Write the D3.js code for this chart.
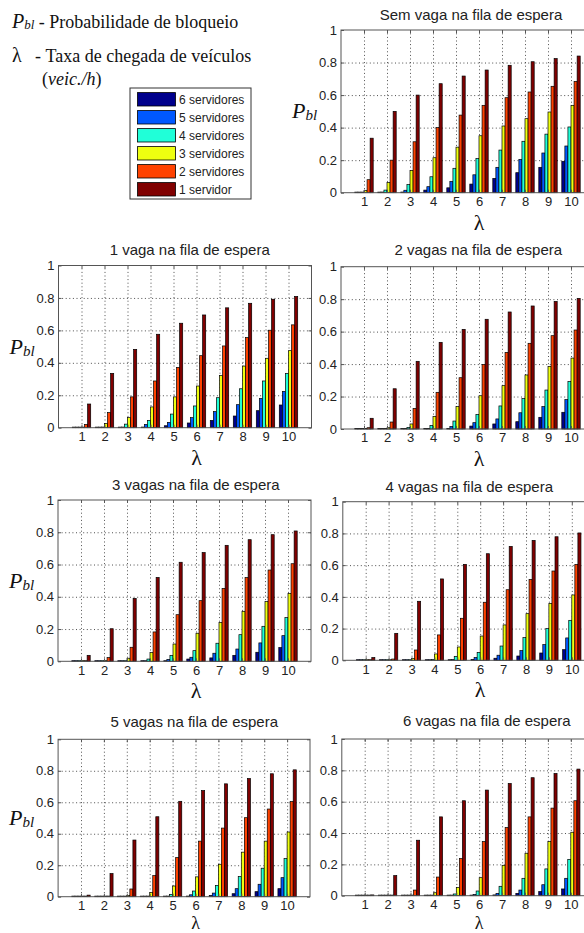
<!DOCTYPE html>
<html>
<head>
<meta charset="utf-8">
<script src="https://cdn.jsdelivr.net/npm/d3@7"></script>
<style>
  body { margin: 0; background: #fff; }
  svg { display: block; }
  .tick text { font-family: "Liberation Sans", Arial, sans-serif; fill: #222; }
</style>
</head>
<body>
<div id="chart"></div>
<script>
// lambda values (veic./h) and the series, in bar order (left to right)
const lambdas = [1, 2, 3, 4, 5, 6, 7, 8, 9, 10];
const servers = ["6 servidores", "5 servidores", "4 servidores", "3 servidores", "2 servidores", "1 servidor"];
const serverColors = ["#00008c", "#0058ff", "#20ffd8", "#eeff10", "#ff4200", "#800000"];
const yTicks = [0, 0.2, 0.4, 0.6, 0.8, 1];

const titles = [
    "Sem vaga na fila de espera",
    "1 vaga na fila de espera",
    "2 vagas na fila de espera",
    "3 vagas na fila de espera",
    "4 vagas na fila de espera",
    "5 vagas na fila de espera",
    "6 vagas na fila de espera"
];

// each row is one lambda, columns are 6,5,4,3,2,1 servidores
const semVaga = [
    [0, 0.001, 0.002, 0.013, 0.08, 0.335],
    [0.001, 0.004, 0.016, 0.063, 0.2, 0.5],
    [0.004, 0.015, 0.05, 0.137, 0.313, 0.6],
    [0.016, 0.037, 0.098, 0.215, 0.4, 0.67],
    [0.03, 0.07, 0.15, 0.28, 0.477, 0.717],
    [0.053, 0.11, 0.21, 0.35, 0.537, 0.754],
    [0.088, 0.156, 0.262, 0.41, 0.584, 0.783],
    [0.123, 0.205, 0.316, 0.455, 0.619, 0.805],
    [0.156, 0.244, 0.36, 0.496, 0.654, 0.824],
    [0.193, 0.287, 0.404, 0.537, 0.684, 0.84]
];
const vaga1 = [
    [0, 0, 0.001, 0.002, 0.02, 0.146],
    [0, 0.001, 0.004, 0.025, 0.093, 0.335],
    [0.001, 0.004, 0.022, 0.062, 0.19, 0.483],
    [0.004, 0.02, 0.045, 0.128, 0.288, 0.576],
    [0.012, 0.033, 0.084, 0.19, 0.372, 0.644],
    [0.029, 0.062, 0.134, 0.257, 0.444, 0.695],
    [0.045, 0.099, 0.185, 0.321, 0.504, 0.739],
    [0.072, 0.142, 0.24, 0.38, 0.556, 0.767],
    [0.105, 0.181, 0.288, 0.428, 0.601, 0.792],
    [0.14, 0.224, 0.335, 0.475, 0.634, 0.809]
];
const vagas2 = [
    [0, 0, 0, 0.001, 0.008, 0.066],
    [0, 0, 0.002, 0.008, 0.043, 0.248],
    [0, 0.002, 0.01, 0.031, 0.127, 0.417],
    [0.001, 0.004, 0.022, 0.078, 0.226, 0.534],
    [0.004, 0.016, 0.049, 0.138, 0.316, 0.614],
    [0.018, 0.039, 0.09, 0.205, 0.398, 0.676],
    [0.031, 0.062, 0.142, 0.267, 0.472, 0.721],
    [0.045, 0.1, 0.187, 0.333, 0.528, 0.758],
    [0.072, 0.138, 0.24, 0.386, 0.575, 0.786],
    [0.103, 0.181, 0.292, 0.437, 0.61, 0.805]
];
const vagas3 = [
    [0, 0, 0, 0, 0.003, 0.037],
    [0, 0, 0, 0.004, 0.023, 0.202],
    [0, 0, 0.003, 0.019, 0.087, 0.39],
    [0, 0.003, 0.014, 0.054, 0.182, 0.52],
    [0.003, 0.012, 0.037, 0.107, 0.289, 0.614],
    [0.014, 0.025, 0.066, 0.174, 0.376, 0.674],
    [0.021, 0.05, 0.112, 0.24, 0.452, 0.719],
    [0.037, 0.076, 0.165, 0.31, 0.519, 0.754],
    [0.056, 0.114, 0.217, 0.37, 0.566, 0.785],
    [0.085, 0.159, 0.271, 0.421, 0.605, 0.808]
];
const vagas4 = [
    [0, 0, 0, 0, 0.001, 0.017],
    [0, 0, 0, 0.001, 0.008, 0.17],
    [0, 0, 0.001, 0.012, 0.065, 0.372],
    [0, 0.001, 0.006, 0.04, 0.16, 0.513],
    [0.001, 0.005, 0.025, 0.084, 0.265, 0.605],
    [0.006, 0.017, 0.05, 0.153, 0.366, 0.672],
    [0.013, 0.032, 0.09, 0.223, 0.445, 0.718],
    [0.027, 0.061, 0.143, 0.294, 0.51, 0.756],
    [0.046, 0.099, 0.2, 0.359, 0.563, 0.779],
    [0.067, 0.141, 0.252, 0.412, 0.605, 0.803]
];
const vagas5 = [
    [0, 0, 0, 0, 0, 0.01],
    [0, 0, 0, 0, 0.004, 0.147],
    [0, 0, 0, 0.007, 0.049, 0.36],
    [0, 0, 0.004, 0.026, 0.134, 0.508],
    [0, 0.004, 0.015, 0.068, 0.249, 0.606],
    [0.004, 0.012, 0.036, 0.126, 0.353, 0.674],
    [0.008, 0.023, 0.072, 0.206, 0.436, 0.717],
    [0.019, 0.051, 0.128, 0.283, 0.502, 0.751],
    [0.032, 0.079, 0.181, 0.353, 0.557, 0.781],
    [0.051, 0.121, 0.243, 0.411, 0.604, 0.806]
];
const vagas6 = [
    [0, 0, 0, 0, 0, 0.005],
    [0, 0, 0, 0, 0.002, 0.128],
    [0, 0, 0, 0.004, 0.036, 0.354],
    [0, 0, 0.002, 0.019, 0.119, 0.503],
    [0, 0.002, 0.011, 0.053, 0.237, 0.606],
    [0.002, 0.008, 0.03, 0.115, 0.345, 0.674],
    [0.005, 0.015, 0.06, 0.194, 0.435, 0.716],
    [0.015, 0.036, 0.111, 0.271, 0.503, 0.753],
    [0.026, 0.07, 0.171, 0.345, 0.559, 0.78],
    [0.043, 0.111, 0.232, 0.405, 0.606, 0.808]
];

const panelData = [semVaga, vaga1, vagas2, vagas3, vagas4, vagas5, vagas6];

// where each subplot sits on the page (tick "1" position, px per lambda unit, plot top/bottom, title centre)
// the right-hand panels below the first one have their P_bl label hidden behind the left panels
const layout = [
    { tick1: 364,   unit: 23.0, top: 30,    bottom: 192.7, tx: 471,   ty: 20,    ylab: true },
    { tick1: 81.5,  unit: 23.0, top: 265.5, bottom: 427.7, tx: 189.7, ty: 255,   ylab: true },
    { tick1: 364,   unit: 23.0, top: 266.7, bottom: 429,   tx: 478.3, ty: 255,   ylab: false },
    { tick1: 81,    unit: 23.0, top: 500,   bottom: 661.3, tx: 195.8, ty: 490,   ylab: true },
    { tick1: 365.7, unit: 22.9, top: 501.7, bottom: 660.3, tx: 469.2, ty: 491.5, ylab: false },
    { tick1: 81,    unit: 22.9, top: 739.3, bottom: 896.7, tx: 194.2, ty: 727,   ylab: true },
    { tick1: 364.7, unit: 22.9, top: 739,   bottom: 895.7, tx: 486.8, ty: 725.5, ylab: false }
];

const W = 584, H = 933;
const sansFont = '"Liberation Sans", Arial, sans-serif';
const serifFont = '"Liberation Serif", "Times New Roman", serif';

const svg = d3.select("#chart").append("svg")
    .attr("width", W)
    .attr("height", H)
    .attr("viewBox", `0 0 ${W} ${H}`);

svg.append("rect").attr("width", W).attr("height", H).attr("fill", "#fff");

// offset of each series inside a lambda group, in lambda units
const inner = d3.scaleBand().domain(servers).range([-0.4, 0.4]).padding(0);

function drawPanel(data, L, title) {
    const left = L.tick1 - L.unit;
    const right = left + 11 * L.unit;
    const x = d3.scaleLinear().domain([0, 11]).range([left, right]);
    const y = d3.scaleLinear().domain([0, 1]).range([L.bottom, L.top]);
    const g = svg.append("g");
    const plotH = L.bottom - L.top;
    const plotW = right - left;

    // dotted grid
    g.append("g")
        .attr("transform", `translate(0,${L.bottom})`)
        .call(d3.axisBottom(x).tickValues(lambdas).tickSize(-plotH).tickFormat(""))
        .call(s => s.select(".domain").remove())
        .selectAll("line")
        .attr("stroke", "#222")
        .attr("stroke-width", 0.8)
        .attr("stroke-dasharray", "1,2.6");

    g.append("g")
        .attr("transform", `translate(${left},0)`)
        .call(d3.axisLeft(y).tickValues([0.2, 0.4, 0.6, 0.8]).tickSize(-plotW).tickFormat(""))
        .call(s => s.select(".domain").remove())
        .selectAll("line")
        .attr("stroke", "#222")
        .attr("stroke-width", 0.8)
        .attr("stroke-dasharray", "1,2.6");

    // bars
    const bw = x(inner.bandwidth()) - x(0);
    const groups = g.selectAll(".grp")
        .data(data)
        .join("g")
        .attr("class", "grp");

    groups.selectAll("rect")
        .data((row, i) => row.map((v, j) => ({ lam: lambdas[i], s: servers[j], c: serverColors[j], v })))
        .join("rect")
        .attr("x", d => x(d.lam + inner(d.s)))
        .attr("width", bw)
        .attr("y", d => Math.min(y(d.v), L.bottom - 0.6))
        .attr("height", d => Math.max(0.6, L.bottom - y(d.v)))
        .attr("fill", d => d.c)
        .attr("stroke", "#000")
        .attr("stroke-width", 0.7);

    // box
    g.append("rect")
        .attr("x", left)
        .attr("y", L.top)
        .attr("width", plotW)
        .attr("height", plotH)
        .attr("fill", "none")
        .attr("stroke", "#555")
        .attr("stroke-width", 1);

    // axes with inward ticks
    const styleAxis = s => {
        s.select(".domain").remove();
        s.selectAll("line").attr("stroke", "#555");
        s.selectAll("text").style("font-size", "13px").style("font-family", sansFont);
    };

    g.append("g")
        .attr("transform", `translate(0,${L.bottom})`)
        .call(d3.axisBottom(x).tickValues(lambdas).tickSize(-3).tickPadding(4))
        .call(styleAxis);
    g.append("g")
        .attr("transform", `translate(0,${L.top})`)
        .call(d3.axisTop(x).tickValues(lambdas).tickSize(-3).tickFormat(""))
        .call(styleAxis);
    g.append("g")
        .attr("transform", `translate(${left},0)`)
        .call(d3.axisLeft(y).tickValues(yTicks).tickSize(-3).tickPadding(4)
            .tickFormat(d => d === 0 ? "0" : d === 1 ? "1" : d3.format(".1f")(d)))
        .call(styleAxis);
    g.append("g")
        .attr("transform", `translate(${right},0)`)
        .call(d3.axisRight(y).tickValues(yTicks).tickSize(-3).tickFormat(""))
        .call(styleAxis);

    // title
    g.append("text")
        .attr("x", L.tx)
        .attr("y", L.ty)
        .attr("text-anchor", "middle")
        .style("font-family", sansFont)
        .style("font-size", "15px")
        .style("fill", "#222")
        .text(title);

    // x label (kept inside the page on the last row)
    const lamSize = L.bottom + 37 + 5 > H ? 18 : 22;
    const lamY = Math.min(L.bottom + 37, H - 4.2);
    g.append("text")
        .attr("x", x(6))
        .attr("y", lamY)
        .attr("text-anchor", "middle")
        .style("font-family", serifFont)
        .style("font-size", lamSize + "px")
        .style("fill", "#111")
        .text("λ");

    // y label P_bl
    if (L.ylab) {
        const yl = g.append("text")
            .attr("x", left - 49)
            .attr("y", (L.top + L.bottom) / 2 + 7)
            .style("font-family", serifFont)
            .style("font-style", "italic")
            .style("fill", "#111");
        yl.append("tspan").style("font-size", "22px").text("P");
        yl.append("tspan").style("font-size", "15px").attr("dy", 2).text("bl");
    }
}

panelData.forEach((d, i) => drawPanel(d, layout[i], titles[i]));

// top-left notes
const notes = svg.append("g").style("font-family", serifFont).style("fill", "#111");
const n1 = notes.append("text").attr("x", 12).attr("y", 28);
n1.append("tspan").style("font-style", "italic").style("font-size", "20px").text("P");
n1.append("tspan").style("font-style", "italic").style("font-size", "13px").attr("dy", 1).text("bl");
n1.append("tspan").style("font-size", "18px").attr("dy", -1).text(" - Probabilidade de bloqueio");

const n2 = notes.append("text").attr("x", 12).attr("y", 62).style("font-size", "18px");
n2.append("tspan").style("font-size", "20px").text("λ");
n2.append("tspan").attr("x", 35).text("-");
n2.append("tspan").attr("x", 45.5).text("Taxa de chegada de veículos");

const n3 = notes.append("text").attr("x", 42).attr("y", 85).style("font-size", "18px");
n3.append("tspan").text("(");
n3.append("tspan").style("font-style", "italic").text("veic./h");
n3.append("tspan").text(")");

// legend
const legend = svg.append("g").attr("transform", "translate(130,88)");
legend.append("rect")
    .attr("width", 121)
    .attr("height", 111)
    .attr("fill", "#fff")
    .attr("stroke", "#333")
    .attr("stroke-width", 1);

const legendY = d3.scalePoint().domain(servers).range([11.3, 101.3]);
const items = legend.selectAll(".item")
    .data(servers)
    .join("g")
    .attr("class", "item")
    .attr("transform", d => `translate(0,${legendY(d)})`);
items.append("rect")
    .attr("x", 7.5)
    .attr("y", -6.7)
    .attr("width", 38)
    .attr("height", 13.4)
    .attr("fill", (d, i) => serverColors[i])
    .attr("stroke", "#000")
    .attr("stroke-width", 0.8);
items.append("text")
    .attr("x", 49)
    .attr("dy", "0.36em")
    .style("font-family", sansFont)
    .style("font-size", "12px")
    .style("fill", "#222")
    .text(d => d);
</script>
</body>
</html>
